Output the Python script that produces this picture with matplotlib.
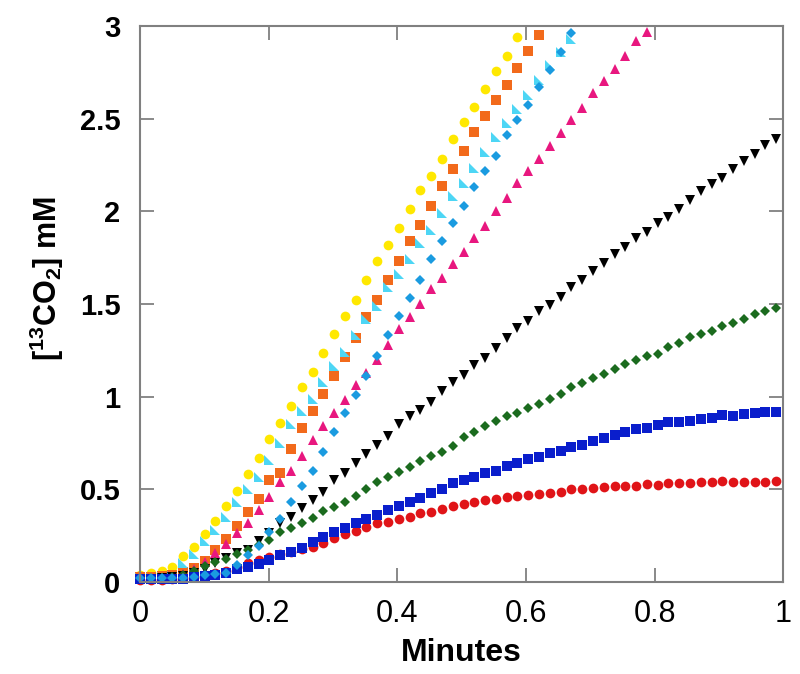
import matplotlib
matplotlib.use('Agg')
import matplotlib.pyplot as plt
import numpy as np
from matplotlib.path import Path

# sampling: one point per ~1 s, plotted in minutes
step_s = 1.006

yellow_circles = [0.038, 0.047, 0.061, 0.079, 0.14, 0.187, 0.26, 0.33, 0.41, 0.49,
                  0.58, 0.67, 0.77, 0.86, 0.95, 1.054, 1.135, 1.237, 1.337, 1.437,
                  1.52, 1.63, 1.732, 1.818, 1.91, 2.01, 2.115, 2.19, 2.28, 2.39,
                  2.48, 2.565, 2.66, 2.757, 2.84, 2.94]
orange_squares = [0.029, 0.029, 0.032, 0.038, 0.056, 0.077, 0.113, 0.17, 0.23, 0.30,
                  0.376, 0.45, 0.55, 0.59, 0.72, 0.833, 0.924, 1.013, 1.113, 1.212,
                  1.318, 1.428, 1.52, 1.628, 1.732, 1.838, 1.926, 2.03, 2.137, 2.228,
                  2.326, 2.427, 2.515, 2.60, 2.68, 2.773, 2.865, 2.95]
cyan_triangles = [0.02, 0.02, 0.025, 0.03, 0.10, 0.15, 0.22, 0.28, 0.35, 0.43,
                  0.50, 0.565, 0.66, 0.75, 0.85, 0.92, 0.985, 1.08, 1.167, 1.24,
                  1.33, 1.42, 1.49, 1.59, 1.66, 1.74, 1.83, 1.90, 1.99, 2.08,
                  2.155, 2.235, 2.32, 2.40, 2.475, 2.55, 2.63, 2.71, 2.79, 2.86, 2.93]
blue_diamonds = [0.02, 0.02, 0.02, 0.02, 0.02, 0.025, 0.038, 0.043, 0.05, 0.092,
                 0.146, 0.196, 0.27, 0.34, 0.43, 0.52, 0.60, 0.70, 0.81, 0.91,
                 1.01, 1.11, 1.22, 1.33, 1.435, 1.53, 1.63, 1.74, 1.84, 1.935,
                 2.03, 2.133, 2.22, 2.30, 2.41, 2.49, 2.575, 2.67, 2.765, 2.86, 2.96]
pink_triangles = [0.015, 0.015, 0.02, 0.025, 0.045, 0.07, 0.11, 0.155, 0.205, 0.266,
                  0.32, 0.39, 0.457, 0.54, 0.60, 0.68, 0.766, 0.842, 0.91, 0.98,
                  1.063, 1.13, 1.20, 1.28, 1.363, 1.43, 1.50, 1.58, 1.64, 1.716,
                  1.78, 1.855, 1.92, 2.00, 2.07, 2.15, 2.22, 2.28, 2.35, 2.42,
                  2.49, 2.556, 2.637, 2.705, 2.77, 2.84, 2.92, 2.97]
black_triangles = [0.015, 0.015, 0.02, 0.025, 0.035, 0.05, 0.068, 0.10, 0.13, 0.155,
                   0.175, 0.22, 0.265, 0.32, 0.352, 0.40, 0.442, 0.484, 0.55, 0.587,
                   0.644, 0.69, 0.74, 0.79, 0.85, 0.896, 0.93, 0.973, 1.03, 1.08,
                   1.117, 1.17, 1.21, 1.26, 1.315, 1.37, 1.41, 1.46, 1.495, 1.54,
                   1.59, 1.63, 1.68, 1.72, 1.77, 1.81, 1.855, 1.89, 1.935, 1.97,
                   2.01, 2.06, 2.11, 2.146, 2.18, 2.23, 2.27, 2.31, 2.36, 2.39]
green_diamonds = [0.015, 0.015, 0.02, 0.025, 0.04, 0.06, 0.085, 0.11, 0.125, 0.15,
                  0.17, 0.20, 0.227, 0.268, 0.293, 0.32, 0.347, 0.383, 0.406, 0.433,
                  0.466, 0.50, 0.538, 0.568, 0.595, 0.622, 0.652, 0.68, 0.70, 0.734,
                  0.78, 0.81, 0.84, 0.87, 0.896, 0.914, 0.937, 0.96, 0.986, 1.013,
                  1.05, 1.075, 1.10, 1.12, 1.15, 1.175, 1.20, 1.22, 1.23, 1.266,
                  1.29, 1.32, 1.34, 1.356, 1.383, 1.40, 1.42, 1.445, 1.46, 1.477]
blue_squares = [0.015, 0.015, 0.015, 0.015, 0.018, 0.029, 0.03, 0.038, 0.05, 0.068,
                0.079, 0.095, 0.12, 0.144, 0.164, 0.181, 0.217, 0.241, 0.27, 0.29,
                0.317, 0.34, 0.36, 0.39, 0.41, 0.43, 0.452, 0.479, 0.50, 0.533,
                0.55, 0.565, 0.587, 0.60, 0.626, 0.644, 0.662, 0.673, 0.694, 0.708,
                0.73, 0.74, 0.762, 0.775, 0.793, 0.81, 0.824, 0.833, 0.847, 0.862,
                0.865, 0.87, 0.88, 0.886, 0.90, 0.896, 0.905, 0.91, 0.916, 0.919]
red_circles = [0.01, 0.01, 0.01, 0.015, 0.02, 0.025, 0.035, 0.047, 0.062, 0.08,
               0.10, 0.119, 0.137, 0.151, 0.164, 0.178, 0.19, 0.212, 0.236, 0.259,
               0.275, 0.295, 0.317, 0.325, 0.338, 0.352, 0.37, 0.38, 0.395, 0.41,
               0.42, 0.432, 0.442, 0.448, 0.457, 0.466, 0.47, 0.475, 0.482, 0.484,
               0.50, 0.50, 0.509, 0.514, 0.518, 0.518, 0.518, 0.527, 0.523, 0.533,
               0.533, 0.533, 0.538, 0.538, 0.545, 0.538, 0.541, 0.538, 0.541, 0.545]

x_ticks = [0, 0.2, 0.4, 0.6, 0.8, 1]
x_ticklabels = ['0', '0.2', '0.4', '0.6', '0.8', '1']
y_ticks = [0, 0.5, 1, 1.5, 2, 2.5, 3]
y_ticklabels = ['0', '0.5', '1', '1.5', '2', '2.5', '3']

# right triangle, right angle at bottom-left
corner_tri = Path([(-1, 1), (-1, -1), (1, -1), (-1, 1)],
                  [Path.MOVETO, Path.LINETO, Path.LINETO, Path.CLOSEPOLY])

plt.rcParams['font.family'] = ['Liberation Sans', 'DejaVu Sans']
plt.rcParams['mathtext.fontset'] = 'custom'
plt.rcParams['mathtext.bf'] = 'Liberation Sans:bold'
plt.rcParams['mathtext.rm'] = 'Liberation Sans:bold'

fig = plt.figure(figsize=(8, 6.74), dpi=100)
ax = fig.add_axes([0.175, 0.1365, 0.804, 0.825])


def minutes(vals):
    return np.arange(len(vals)) * step_s / 60.0


series = [
    (yellow_circles, 'o', '#FFE800', 7.0),
    (orange_squares, 's', '#F26A1B', 6.6),
    (cyan_triangles, corner_tri, '#4DD6F5', 7.2),
    (pink_triangles, '^', '#E8177F', 7.2),
    (black_triangles, 'v', '#000000', 7.2),
    (green_diamonds, 'D', '#1B6B1E', 4.8),
    (red_circles, 'o', '#E01418', 7.0),
    (blue_squares, 's', '#0A1ECC', 6.6),
    (blue_diamonds, 'D', '#1A9BE0', 5.4),
]
for vals, mk, col, ms in series:
    ax.plot(minutes(vals), vals, linestyle='none', marker=mk, color=col,
            markersize=ms, markeredgewidth=0, clip_on=False)

ax.set_xlim(0, 1)
ax.set_ylim(0, 3)
ax.set_xticks(x_ticks)
ax.set_xticklabels(x_ticklabels, fontsize=22)
ax.set_yticks(y_ticks)
ax.set_yticklabels(y_ticklabels, fontsize=21, fontweight='bold')

for s in ax.spines.values():
    s.set_color('#808080')
    s.set_linewidth(1.5)
ax.tick_params(direction='in', length=10, width=1.3, color='#808080',
               top=True, right=True)
ax.tick_params(axis='x', pad=12)
ax.tick_params(axis='y', pad=14)

ax.set_xlabel('Minutes', fontsize=23, fontweight='bold')
ax.xaxis.set_label_coords(0.5, -0.1)
ax.set_ylabel(r'[$\mathbf{^{13}}$CO$\mathbf{_{2}}$] mM', fontsize=22,
              fontweight='bold')
ax.yaxis.set_label_coords(-0.115, 0.545)

fig.savefig('out.png', dpi=100)
